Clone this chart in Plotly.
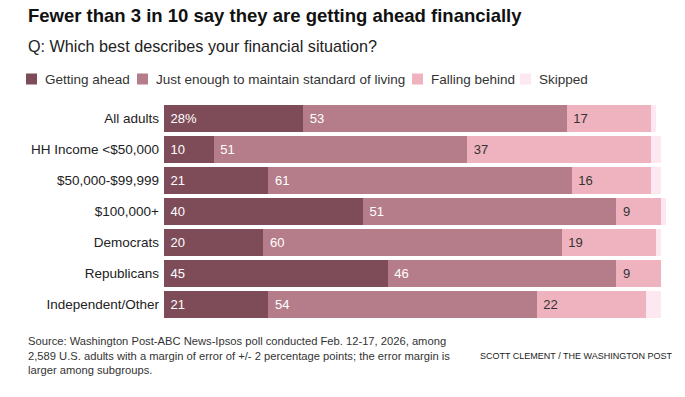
import plotly.graph_objects as go

categories = ["All adults", "HH Income <$50,000", "$50,000-$99,999", "$100,000+",
              "Democrats", "Republicans", "Independent/Other"]
getting_ahead = [28, 10, 21, 40, 20, 45, 21]
just_enough = [53, 51, 61, 51, 60, 46, 54]
falling_behind = [17, 37, 16, 9, 19, 9, 22]
skipped = [1, 2, 2, 1, 1, 0, 3]

series_names = ["Getting ahead", "Just enough to maintain standard of living",
                "Falling behind", "Skipped"]
series_values = [getting_ahead, just_enough, falling_behind, skipped]
colors = ["#7e4c59", "#b57d89", "#efb3bf", "#fde7f1"]
text_colors = ["#ffffff", "#ffffff", "#333333", "#333333"]

FONT = "Liberation Sans, Arial, sans-serif"
W, H = 685, 397
ML, MR, MT, MB = 164, 0, 103, 77
PW, PH = W - ML - MR, H - MT - MB
PX_PER_UNIT = 4.97


def px_x(px):
    return (px - ML) / PW


def px_y(py):
    return (H - MB - py) / PH


fig = go.Figure()
for i, (name, vals) in enumerate(zip(series_names, series_values)):
    if i == 3:
        texts = ["" for _ in vals]
    elif i == 0:
        texts = ["\u00a0" + str(v) + ("%" if j == 0 else "") for j, v in enumerate(vals)]
    else:
        texts = ["\u00a0" + str(v) for v in vals]
    fig.add_trace(go.Bar(
        y=categories, x=vals, name=name, orientation="h",
        marker=dict(color=colors[i], line=dict(width=0)),
        text=texts, textposition="inside", insidetextanchor="start",
        textfont=dict(family=FONT, size=13, color=text_colors[i]),
        hoverinfo="x+y+name", showlegend=False,
    ))

fig.update_layout(
    width=W, height=H,
    margin=dict(l=ML, r=MR, t=MT, b=MB, pad=0),
    barmode="stack", bargap=0.13,
    plot_bgcolor="white", paper_bgcolor="white",
    font=dict(family=FONT, color="#333333"),
    xaxis=dict(range=[0, PW / PX_PER_UNIT], visible=False, fixedrange=True),
    yaxis=dict(type="category", range=[6.5, -0.5], showgrid=False, zeroline=False,
               showline=False, ticks="", ticklabelstandoff=4, fixedrange=True,
               tickfont=dict(family=FONT, size=13.5, color="#222222")),
    showlegend=False,
)

# Legend (swatches + labels)
legend_square_px = [26, 137, 412, 520]
LEG_Y = 79
for name, col, sx in zip(series_names, colors, legend_square_px):
    fig.add_shape(type="rect", xref="paper", yref="paper",
                  x0=px_x(sx), x1=px_x(sx + 11), y0=px_y(LEG_Y - 5.5), y1=px_y(LEG_Y + 5.5),
                  fillcolor=col, line=dict(width=0), layer="above")
    fig.add_annotation(text=name, xref="paper", yref="paper", x=px_x(sx + 17), y=px_y(LEG_Y),
                       xanchor="left", yanchor="middle", showarrow=False,
                       font=dict(family=FONT, size=13.5, color="#333333"))

fig.add_annotation(text="<b>Fewer than 3 in 10 say they are getting ahead financially</b>",
                   xref="paper", yref="paper", x=px_x(26), y=px_y(15),
                   xanchor="left", yanchor="middle", showarrow=False,
                   font=dict(family=FONT, size=18.5, color="#111111"))
fig.add_annotation(text="Q: Which best describes your financial situation?",
                   xref="paper", yref="paper", x=px_x(26), y=px_y(46),
                   xanchor="left", yanchor="middle", showarrow=False,
                   font=dict(family=FONT, size=16.2, color="#222222"))
fig.add_annotation(text="Source: Washington Post-ABC News-Ipsos poll conducted Feb. 12-17, 2026, among<br>"
                        "2,589 U.S. adults with a margin of error of +/- 2 percentage points; the error margin is<br>"
                        "larger among subgroups.",
                   xref="paper", yref="paper", x=px_x(26), y=px_y(333),
                   xanchor="left", yanchor="top", align="left", showarrow=False,
                   font=dict(family=FONT, size=11.2, color="#333333"))
fig.add_annotation(text="SCOTT CLEMENT / THE WASHINGTON POST",
                   xref="paper", yref="paper", x=px_x(478), y=px_y(356),
                   xanchor="left", yanchor="middle", showarrow=False,
                   font=dict(family=FONT, size=9, color="#222222"))

fig.write_html("out.html", config={"displayModeBar": False},
               post_script="document.body.style.margin='0px';")
